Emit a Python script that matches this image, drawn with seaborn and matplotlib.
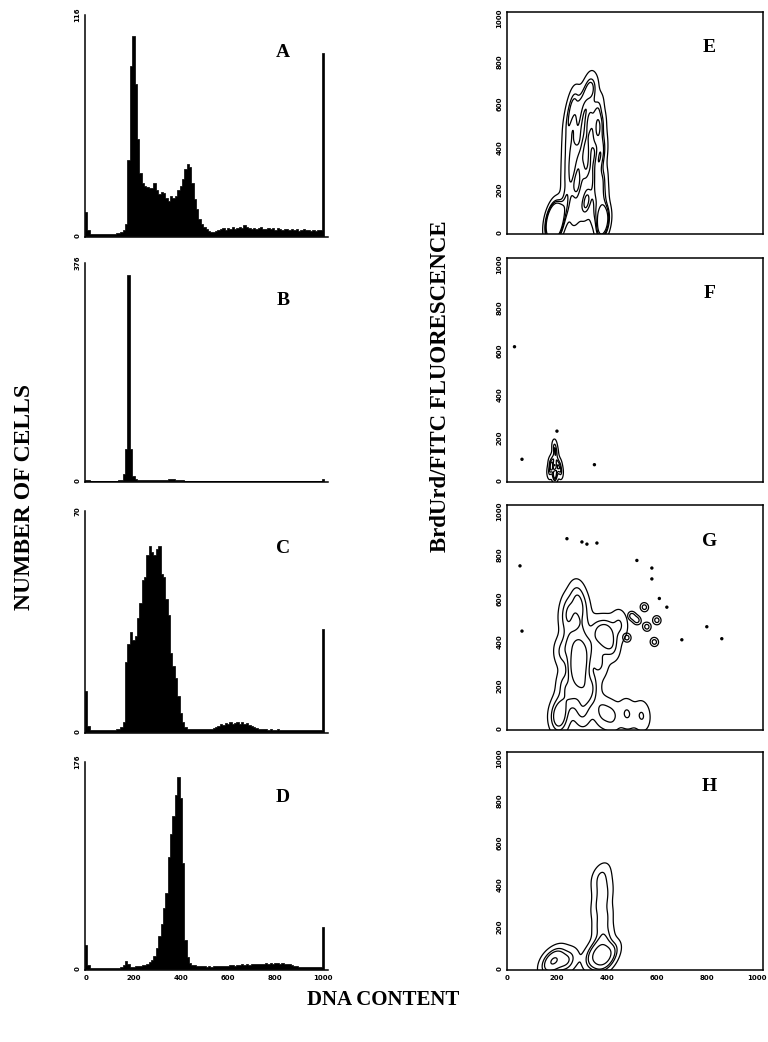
import numpy as np
import pandas as pd
import matplotlib
matplotlib.use("Agg")
import matplotlib.pyplot as plt
import seaborn as sns

sns.set_style("white")
plt.rcParams['font.family'] = ['DejaVu Sans']
for k in ['text.color', 'axes.labelcolor', 'xtick.color', 'ytick.color', 'axes.edgecolor']:
    plt.rcParams[k] = 'black'

# ---------------- data ----------------
channels = list(range(0, 1010, 10))          # DNA content channels (bin centres)
hist_max = {"A": 116, "B": 376, "C": 70, "D": 176}

counts_A = [12.5, 3.0, 1.0, 0.8, 1.0, 1.2, 0.9, 1.0, 1.1, 0.9,
            1.0, 1.2, 1.0, 1.3, 1.5, 2.0, 3.0, 6.0, 40, 89,
            105, 80, 51, 33, 28, 26, 25.5, 25, 25, 28,
            24, 22, 23, 22.5, 20, 18.5, 21, 20, 21, 24,
            26, 30, 35, 38, 36, 28, 19.5, 14, 9, 6.5,
            4.7, 3.5, 2.6, 2.0, 2.2, 2.5, 3.0, 3.5, 4.0, 3.2,
            4.2, 3.8, 4.5, 3.6, 4.0, 4.8, 4.2, 5.5, 4.6, 4.0,
            3.8, 4.4, 3.6, 4.0, 4.5, 3.4, 3.8, 4.2, 3.5, 3.9,
            3.2, 4.0, 3.6, 3.0, 3.8, 3.4, 3.1, 3.6, 3.0, 3.4,
            2.8, 3.2, 3.5, 2.9, 3.1, 2.8, 3.3, 2.7, 3.0, 3.0,
            96]

counts_B = [2.0, 1.0, 0.5, 0.5, 0.5, 0.5, 0.5, 0.5, 0.5, 0.5,
            0.5, 0.5, 0.5, 0.6, 0.8, 1.0, 12, 55, 356, 55,
            8, 3, 1.5, 1.0, 1.0, 0.8, 0.8, 0.8, 0.8, 0.8,
            1.0, 1.0, 1.2, 1.5, 2.0, 2.5, 3.0, 2.5, 2.0, 1.5,
            1.0, 0.8, 0.6, 0.5, 0.5, 0.5, 0.5, 0.5, 0.5, 0.5,
            0.5, 0.6, 0.5, 0.5, 0.6, 0.5, 0.5, 0.6, 0.5, 0.5,
            0.6, 0.5, 0.6, 0.7, 0.6, 0.5, 0.6, 0.5, 0.6, 0.5,
            0.5, 0.5, 0.6, 0.5, 0.5, 0.6, 0.5, 0.5, 0.5, 0.5,
            0.5, 0.5, 0.5, 0.5, 0.5, 0.5, 0.5, 0.5, 0.5, 0.5,
            0.5, 0.5, 0.5, 0.5, 0.5, 0.5, 0.5, 0.5, 0.5, 0.5,
            3]

counts_C = [13, 2.0, 0.5, 0.5, 0.5, 0.5, 0.5, 0.5, 0.5, 0.5,
            0.5, 0.5, 0.6, 0.8, 1.0, 1.5, 3, 22, 28, 31.5,
            29, 30.5, 36, 41, 48, 49, 56, 59, 57, 56,
            58, 59, 50, 49, 42, 37, 25, 21, 17, 11.5,
            6, 3, 1.5, 1.0, 1.0, 0.8, 0.8, 0.8, 0.8, 0.8,
            0.8, 1.0, 0.8, 1.0, 1.2, 1.5, 2.0, 2.5, 2.2, 2.8,
            2.5, 3.0, 2.4, 2.8, 3.2, 2.6, 3.0, 2.4, 2.8, 2.2,
            2.0, 1.6, 1.2, 1.0, 0.9, 0.8, 0.8, 0.7, 0.8, 0.7,
            0.7, 0.8, 0.6, 0.7, 0.6, 0.7, 0.6, 0.6, 0.7, 0.6,
            0.6, 0.6, 0.5, 0.6, 0.5, 0.6, 0.5, 0.5, 0.6, 0.5,
            32.5]

counts_D = [20, 3, 1, 1, 1, 1, 1, 1, 1, 1,
            1, 1, 1, 1, 1.2, 1.5, 3, 7, 4, 2,
            2, 2.2, 2.5, 2.5, 3, 3.5, 4, 6, 8, 11,
            18, 28, 38, 52, 65, 95, 115, 130, 148, 163,
            145, 90, 25, 10, 5, 3.5, 3, 2.5, 2.5, 2.2,
            2.2, 2.0, 2.4, 2.0, 2.2, 2.5, 2.2, 2.6, 2.4, 2.8,
            2.6, 3.0, 3.2, 2.8, 3.5, 3.2, 3.8, 3.4, 4.0, 3.6,
            4.2, 3.8, 4.5, 4.0, 4.6, 4.2, 4.8, 4.4, 5.0, 4.6,
            4.8, 5.2, 4.6, 5.0, 4.4, 4.6, 3.8, 3.0, 2.5, 2.2,
            2.0, 1.8, 2.0, 1.6, 1.8, 1.5, 1.6, 1.4, 1.5, 1.4,
            36]

# bivariate events (DNA content, BrdUrd/FITC)
E_dna = [170, 180, 185, 190, 195, 200, 205, 190, 175, 210, 200, 185,
         235, 275, 315, 355, 385,
         240, 280, 320, 360, 385,
         238, 278, 318, 358, 382,
         240, 285, 320, 360, 380,
         242, 280, 315, 355, 378,
         245, 285, 325, 360, 375,
         255, 290, 330, 365,
         270, 310, 345, 330,
         385, 375, 395, 380]
E_brdu = [50, 40, 70, 55, 35, 60, 80, 90, 30, 45, 25, 60,
          110, 95, 120, 100, 90,
          180, 200, 170, 190, 170,
          260, 250, 280, 260, 250,
          340, 330, 350, 330, 360,
          420, 430, 410, 440, 420,
          500, 510, 490, 520, 500,
          570, 580, 560, 590,
          630, 640, 665, 690,
          40, 60, 50, 30]

F_dna = [170, 180, 190, 200, 210, 185, 195, 190, 200, 175, 215, 192]
F_brdu = [40, 60, 30, 50, 70, 100, 130, 160, 90, 80, 40, 20]
F_dots_dna = [30, 60, 350, 200]
F_dots_brdu = [620, 100, 75, 230]

G_dna = [280, 290, 300, 285, 295, 275, 280, 290, 300, 285,
         230, 250, 330, 340, 260, 320, 240, 300, 360, 220, 300, 380, 420, 480, 540, 200, 210,
         400, 450, 420, 250, 300, 280, 220, 370, 390]
G_brdu = [280, 320, 300, 260, 340, 300, 240, 360, 200, 400,
          200, 400, 380, 200, 150, 150, 500, 480, 450, 100, 80, 80, 60, 70, 60, 40, 60,
          450, 480, 380, 560, 560, 620, 350, 300, 420]
G_frag_dna = [500, 520, 550, 480, 600, 560, 590]
G_frag_brdu = [520, 500, 560, 420, 500, 470, 400]
G_dots_dna = [240, 300, 320, 360, 52, 520, 580, 580, 60, 800, 860, 700, 610, 640]
G_dots_brdu = [875, 860, 850, 855, 750, 775, 740, 690, 450, 470, 415, 410, 600, 560]

H_dna = [380, 385, 375, 390, 370, 390, 380, 385, 375, 385, 380, 375, 350, 400, 340, 420,
         190, 180, 200, 160, 230, 250]
H_brdu = [60, 50, 70, 60, 100, 150, 200, 250, 300, 350, 400, 450, 50, 40, 70, 80,
          40, 30, 50, 30, 40, 35]

# ---------------- figure ----------------
W, H = 768, 1042
fig = plt.figure(figsize=(W / 100, H / 100), dpi=100)

def rect(x0, top, x1, bottom):
    return [x0 / W, 1 - bottom / H, (x1 - x0) / W, (bottom - top) / H]

left_pos = {"A": (15, 237), "B": (263, 482), "C": (511, 733), "D": (762, 970)}
right_pos = {"E": (12, 234), "F": (258, 482), "G": (505, 730), "H": (752, 970)}

tick_kw = dict(fontsize=5, fontweight='bold')
serif = ['Liberation Serif', 'DejaVu Serif']

hist_counts = {"A": counts_A, "B": counts_B, "C": counts_C, "D": counts_D}
for key in "ABCD":
    top, bot = left_pos[key]
    ax = fig.add_axes(rect(85, top, 328, bot))
    df = pd.DataFrame({"channel": channels, "count": hist_counts[key]})
    sns.histplot(data=df, x="channel", weights="count", binwidth=10, binrange=(-5, 1005),
                 element='step', fill=True, color='black', alpha=1, linewidth=0.5, ax=ax)
    ymax = hist_max[key]
    ax.set_xlim(-4, 1022)
    ax.set_ylim(-ymax * 0.005, ymax)
    for s in ['top', 'right']:
        ax.spines[s].set_visible(False)
    for s in ['left', 'bottom']:
        ax.spines[s].set_linewidth(1.1)
    ax.set_yticks([0, ymax])
    ax.set_yticklabels(['0', str(ymax)], rotation=90, va='center', **tick_kw)
    ax.set_yticks(np.linspace(0, ymax, 11), minor=True)
    ax.set_xticks(range(0, 1001, 200))
    ax.set_xticks(range(0, 1001, 100), minor=True)
    if key == "D":
        ax.set_xticklabels([str(v) for v in range(0, 1001, 200)], **tick_kw)
    else:
        ax.set_xticklabels([])
    ax.tick_params(axis='both', which='major', direction='out', length=2.5, width=0.8, pad=1)
    ax.tick_params(axis='both', which='minor', direction='out', length=1.5, width=0.6)
    ax.set_xlabel('')
    ax.set_ylabel('')
    ax.text(0.815, 0.83, key, transform=ax.transAxes, ha='center', va='center',
            fontsize=14, fontweight='bold', family=serif)

contour_data = {
    "E": (E_dna, E_brdu, 0.42, [0.04, 0.25, 0.5, 0.75]),
    "F": (F_dna, F_brdu, 0.7, [0.05, 0.3, 0.6, 0.85]),
    "G": (G_dna, G_brdu, 0.5, [0.05, 0.25, 0.5, 0.8]),
    "H": (H_dna, H_brdu, 0.5, [0.08, 0.3, 0.55, 0.8]),
}
for key in "EFGH":
    top, bot = right_pos[key]
    ax = fig.add_axes(rect(507, top, 763, bot))
    xd, yd, bw, lv = contour_data[key]
    sns.kdeplot(x=xd, y=yd, levels=lv, bw_adjust=bw,
                color='black', linewidths=0.9, ax=ax)
    if key == "F":
        sns.scatterplot(x=F_dots_dna, y=F_dots_brdu, s=6, color='black', edgecolor='none', ax=ax)
    if key == "G":
        sns.kdeplot(x=G_frag_dna, y=G_frag_brdu, levels=[0.3, 0.7], bw_adjust=0.35,
                    color='black', linewidths=0.9, ax=ax)
        sns.scatterplot(x=G_dots_dna, y=G_dots_brdu, s=6, color='black', edgecolor='none', ax=ax)
    ax.set_xlim(0, 1025)
    ax.set_ylim(-5, 1030)
    for s in ax.spines.values():
        s.set_visible(True)
        s.set_linewidth(1.1)
    ax.set_yticks(range(0, 1001, 200))
    ax.set_yticklabels([str(v) for v in range(0, 1001, 200)], rotation=90, va='center', **tick_kw)
    ax.set_yticks(range(0, 1001, 50), minor=True)
    ax.set_xticks(range(0, 1001, 200))
    ax.set_xticks(range(0, 1001, 50), minor=True)
    if key == "H":
        ax.set_xticklabels([str(v) for v in range(0, 1001, 200)], **tick_kw)
    else:
        ax.set_xticklabels([])
    ax.tick_params(axis='both', which='major', direction='out', length=2.5, width=0.8, pad=1)
    ax.tick_params(axis='both', which='minor', direction='out', length=1.5, width=0.6)
    ax.set_xlabel('')
    ax.set_ylabel('')
    ax.text(0.79, 0.84, key, transform=ax.transAxes, ha='center', va='center',
            fontsize=14, fontweight='bold', family=serif)

fig.text(25 / W, 1 - 497 / H, 'NUMBER OF CELLS', rotation=90, ha='center', va='center',
         fontsize=17, fontweight='bold', family=serif)
fig.text(440 / W, 1 - 386 / H, 'BrdUrd/FITC FLUORESCENCE', rotation=90, ha='center',
         va='center', fontsize=16.5, fontweight='bold', family=serif)
fig.text(383 / W, 1 - 1000 / H, 'DNA CONTENT', ha='center', va='center',
         fontsize=15, fontweight='bold', family=serif)

fig.savefig('out.png', dpi=100, facecolor='white')
